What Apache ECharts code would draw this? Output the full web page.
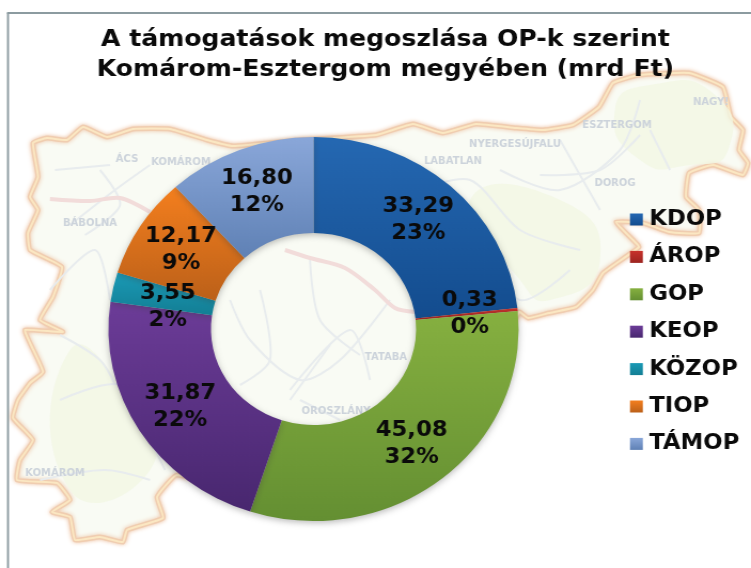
<!DOCTYPE html>
<html><head><meta charset="utf-8">
<style>html,body{margin:0;padding:0;background:#fff;overflow:hidden}
#c{width:703px;height:568px;transform:scaleX(1.0683);transform-origin:0 0;filter:blur(0.35px)}</style>
<script src="https://cdn.jsdelivr.net/npm/echarts@6/dist/echarts.min.js"></script>
</head><body><div id="c"></div>
<script>
// Data
const categories = ['KDOP','ÁROP','GOP','KEOP','KÖZOP','TIOP','TÁMOP'];
const values = [33.29,0.33,45.08,31.87,3.55,12.17,16.80];
const topColors = ['#2568b2','#c8322c','#86b040','#6c3c98','#1a9ab6','#f47f1e','#8aa7d9'];
const bottomColors = ['#134c8e','#9c2420','#648f32','#48276f','#137e94','#bb6019','#5f81b5'];
const titleLines = ['A támogatások megoszlása OP-k szerint','Komárom-Esztergom megyében (mrd Ft)'];

// Decorative backdrop (county map), in page pixels
const S = 1.0683;
const outline = [[33,143],[47,138],[67,140],[83,127],[107,137],[133,129],[170,129],[207,140],[233,146],[300,140],[376,135],[413,124],[443,133],[476,124],[516,128],[543,130],[573,125],[599,107],[613,83],[639,75],[689,73],[723,87],[731,117],[743,130],[739,150],[748,163],[743,175],[713,165],[689,173],[686,197],[699,210],[699,233],[669,232],[643,223],[616,222],[633,240],[639,247],[603,273],[593,290],[576,307],[549,313],[528,318],[519,312],[480,400],[300,500],[177,475],[157,497],[163,518],[127,530],[123,542],[100,537],[75,540],[70,517],[52,512],[70,500],[57,483],[17,480],[20,460],[33,440],[13,418],[18,400],[30,383],[43,372],[30,343],[25,330],[63,332],[40,320],[53,297],[62,267],[30,250],[28,233],[38,210],[30,197],[38,177]];
const roads = [
 [[70,225],[115,190],[150,165]],[[100,170],[120,205],[85,235]],[[55,170],[110,165]],
 [[50,290],[95,250],[110,300]],[[60,400],[120,385],[150,440],[165,470]],[[40,480],[105,470],[150,480]],
 [[60,335],[100,360],[115,385]],[[420,190],[470,180],[520,230],[580,250]],[[500,170],[560,190],[620,150],[640,100]],
 [[540,175],[600,170],[640,135]],[[600,210],[560,140]],[[470,240],[520,300],[570,270]],[[650,130],[670,170]],
 [[230,300],[250,340],[300,380],[340,360],[390,300]],[[260,290],[270,360],[240,385]],[[290,390],[350,330],[370,380]],
 [[310,260],[320,320],[360,355]],[[330,345],[290,400]],[[300,400],[340,420]]
];
const motorway = [[[50,199],[90,201],[120,198],[150,212]],[[285,250],[310,258],[345,268],[375,290],[395,308],[415,312]]];
const mapLabels = [['ÁCS',127,159],['KOMÁROM',181,162],['BÁBOLNA',90,223],['LABATLAN',453,161],['NYERGESÚJFALU',515,144],['ESZTERGOM',617,125],['DOROG',615,183],['NAGY!',711,102],['TATABA',386,357],['OROSZLÁNY',336,411],['KOMÁROM',55,473]];
const greenPatches = [[[615,110],[650,85],[715,95],[728,150],[690,165],[640,160]],[[470,200],[560,200],[600,260],[550,300],[520,280]],[[70,350],[130,400],[150,470],[70,490]]];

const backdrop = [
  {type:'polygon',shape:{points:outline,smooth:0.12},style:{fill:'#f9fbf4',stroke:'#f0cdb0',lineWidth:5,lineJoin:'round',shadowBlur:4,shadowColor:'#eec5a6'}},
  {type:'polygon',shape:{points:outline,smooth:0.12},style:{fill:'none',stroke:'#fbe7c2',lineWidth:2,lineJoin:'round'}},
  ...greenPatches.map(p=>({type:'polygon',shape:{points:p,smooth:0.6},style:{fill:'#f2f7e4',opacity:0.8}})),
  ...roads.map(p=>({type:'polyline',shape:{points:p,smooth:0.3},style:{fill:'none',stroke:'#e8ecee',lineWidth:2}})),
  ...motorway.map(p=>({type:'polyline',shape:{points:p,smooth:0.3},style:{fill:'none',stroke:'#f2dcda',lineWidth:4}})),
  ...mapLabels.map(([t,x,y])=>({type:'text',x,y,style:{text:t,fill:'#ccd3db',font:'bold 10px "DejaVu Sans"',textAlign:'center',textVerticalAlign:'middle'}})),
  {type:'line',shape:{x1:7,y1:13,x2:751,y2:13},style:{stroke:'#8c9ba0',lineWidth:2}},
  {type:'line',shape:{x1:8,y1:13,x2:8,y2:568},style:{stroke:'#8c9ba0',lineWidth:2}}
];

const fmt = v => v.toFixed(2).replace('.',',');
const chart = echarts.init(document.getElementById('c'),null,{renderer:'canvas'});
chart.setOption({
  animation:false,
  backgroundColor:'#fff',
  title:{text:titleLines.join('\n'),left:380/S,top:20,textAlign:'center',
    textStyle:{fontFamily:'"DejaVu Sans"',fontWeight:'bold',fontSize:23.5,lineHeight:30,color:'#0a0a0a'}},
  graphic:[{type:'group',z:0,scaleX:1/S,silent:true,children:backdrop}],
  legend:{orient:'vertical',padding:0,left:630/S,top:209,itemWidth:12,itemHeight:12,itemGap:16.4,icon:'rect',selectedMode:false,
    itemStyle:{shadowBlur:0,shadowOffsetY:0},
    textStyle:{fontFamily:'"DejaVu Sans"',fontWeight:'bold',fontSize:21.3,color:'#0a0a0a',padding:[0,0,0,1]}},
  series:[{type:'pie',z:2,center:[313.5/S,329],radius:[96,192],startAngle:90,clockwise:true,avoidLabelOverlap:false,
    data:categories.map((name,i)=>({name,value:values[i],
      itemStyle:{color:new echarts.graphic.LinearGradient(0,0,0,1,[{offset:0,color:topColors[i]},{offset:1,color:bottomColors[i]}])}})),
    itemStyle:{shadowBlur:6,shadowColor:'rgba(60,60,60,0.35)',shadowOffsetY:2},
    labelLayout:p=>p.dataIndex===4?{hideOverlap:false,dx:7,dy:10}:{hideOverlap:false},
    label:{show:true,position:'inside',minMargin:0,overflow:'none',fontFamily:'"DejaVu Sans"',fontWeight:'bold',fontSize:21.2,lineHeight:27,color:'#0a0a0a',
      formatter:p=>fmt(p.value)+'\n'+Math.round(p.percent)+'%'},
    labelLine:{show:false},emphasis:{disabled:true}}]
});
</script></body></html>
